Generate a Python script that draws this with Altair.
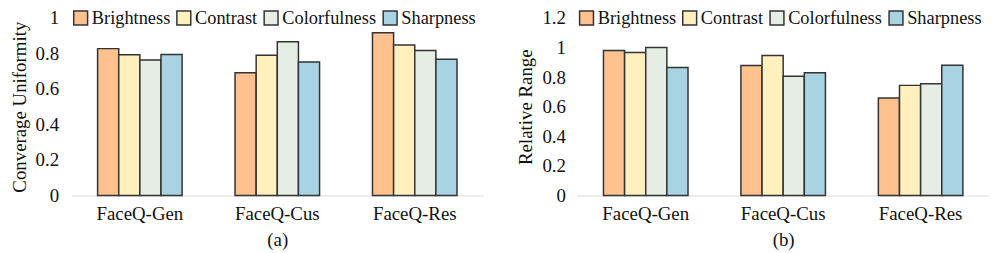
import altair as alt
import pandas as pd

categories = ["FaceQ-Gen", "FaceQ-Cus", "FaceQ-Res"]
attributes = ["Brightness", "Contrast", "Colorfulness", "Sharpness"]
colors = ["#FFC18D", "#FFF0BE", "#E5EDE4", "#A8D3E3"]

# (a) Converage Uniformity
uni_brightness = [0.827, 0.691, 0.916]
uni_contrast = [0.792, 0.790, 0.847]
uni_colorfulness = [0.763, 0.866, 0.816]
uni_sharpness = [0.794, 0.752, 0.767]

# (b) Relative Range
rng_brightness = [0.979, 0.878, 0.658]
rng_contrast = [0.966, 0.946, 0.744]
rng_colorfulness = [1.000, 0.806, 0.755]
rng_sharpness = [0.865, 0.830, 0.880]

ticks_a = [0, 0.2, 0.4, 0.6, 0.8, 1]
ticks_b = [0, 0.2, 0.4, 0.6, 0.8, 1, 1.2]

FONT = "Liberation Serif"
FS = 19
TXT = "#111111"


def build_df(series):
    rows = []
    for attr, vals in zip(attributes, series):
        for cat, v in zip(categories, vals):
            rows.append({"Dataset": cat, "Attribute": attr, "Value": v})
    return pd.DataFrame(rows)


df_a = build_df([uni_brightness, uni_contrast, uni_colorfulness, uni_sharpness])
df_b = build_df([rng_brightness, rng_contrast, rng_colorfulness, rng_sharpness])


def panel(df, ytitle, ymax, ticks, sub, lab_pad):
    return alt.Chart(df).mark_bar(stroke="#333333", strokeWidth=1.5).encode(
        x=alt.X(
            "Dataset:N",
            sort=categories,
            scale=alt.Scale(paddingInner=0.385, paddingOuter=0.19),
            axis=alt.Axis(
                title=sub, labelAngle=0, ticks=False, domainColor="#D9D9D9",
                domainWidth=1, labelPadding=9, titlePadding=7,
                labelFont=FONT, titleFont=FONT, labelFontSize=FS, titleFontSize=FS,
                titleFontWeight="normal", labelColor=TXT, titleColor=TXT,
            ),
        ),
        xOffset=alt.XOffset("Attribute:N", sort=attributes,
                            scale=alt.Scale(paddingInner=0, paddingOuter=0)),
        y=alt.Y(
            "Value:Q",
            scale=alt.Scale(domain=[0, ymax], nice=False),
            axis=alt.Axis(
                title=ytitle, values=ticks, format="~g", grid=False, domain=False,
                ticks=False, labelPadding=lab_pad, titlePadding=6,
                labelFont=FONT, titleFont=FONT, labelFontSize=FS, titleFontSize=FS,
                titleFontWeight="normal", labelColor=TXT, titleColor=TXT,
            ),
        ),
        color=alt.Color(
            "Attribute:N",
            sort=attributes,
            scale=alt.Scale(domain=attributes, range=colors),
            legend=alt.Legend(
                title=None, orient="none", legendX=0, legendY=-9.5,
                direction="horizontal", columns=4, symbolType="square",
                symbolSize=196, symbolStrokeColor="#333333", symbolStrokeWidth=1.5,
                symbolOpacity=1, labelFont=FONT, labelFontSize=18.5,
                labelColor=TXT, labelOffset=2, columnPadding=3, padding=0,
            ),
        ),
    ).properties(width=415, height=179)


a = panel(df_a, "Converage Uniformity", 1, ticks_a, "(a)", 13)
b = panel(df_b, "Relative Range", 1.2, ticks_b, "(b)", 12)

chart = alt.hconcat(a, b, spacing=34).resolve_scale(color="independent").configure(
    font=FONT
).configure_view(
    stroke=None
).properties(padding={"top": -1, "left": 2, "right": 0, "bottom": 0})

chart.save("out.html", embed_options={"renderer": "svg", "actions": False})
